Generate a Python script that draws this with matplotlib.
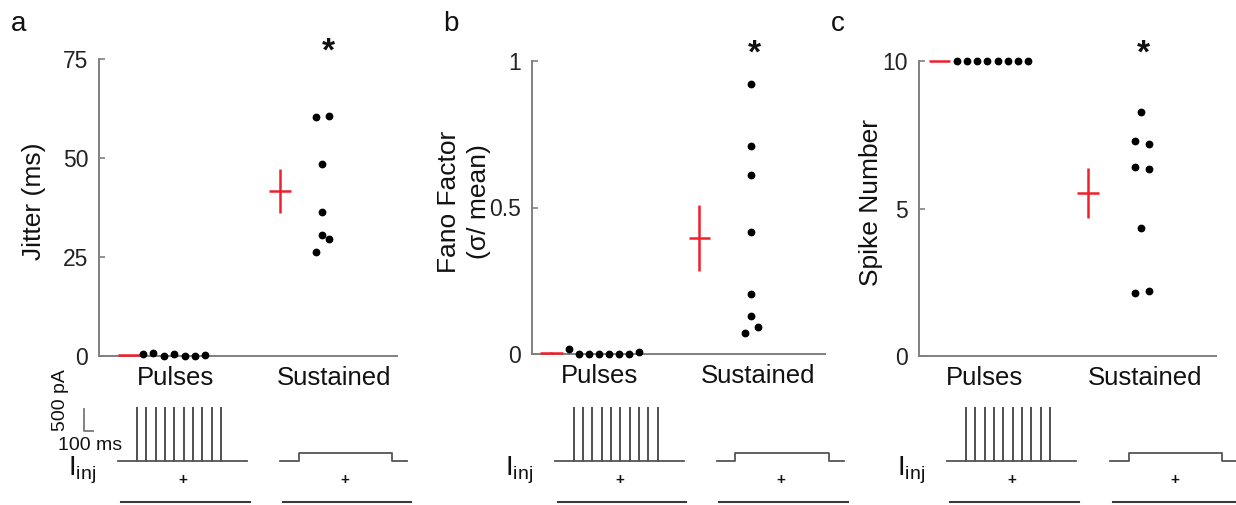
import numpy as np
import matplotlib
matplotlib.use('Agg')
import matplotlib.pyplot as plt
import matplotlib.transforms as mtransforms

plt.rcParams['font.family'] = ['Liberation Sans', 'DejaVu Sans']
plt.rcParams['mathtext.fontset'] = 'custom'
plt.rcParams['mathtext.rm'] = 'Liberation Sans'

# ---------------- data ----------------
categories = ['Pulses', 'Sustained']

jitter_pulses = [0.4, 0.7, 0.0, 0.4, 0.0, 0.0, 0.3]
jitter_sustained = [60.4, 60.5, 48.5, 36.4, 30.5, 29.5, 26.3]

fano_pulses = [0.017, 0.0, 0.0, 0.0, 0.0, 0.0, 0.0, 0.008]
fano_sustained = [0.921, 0.711, 0.611, 0.418, 0.205, 0.131, 0.093, 0.073]

spikes_pulses = [10, 10, 10, 10, 10, 10, 10, 10]
spikes_sustained = [8.27, 7.30, 7.19, 6.42, 6.33, 4.35, 2.12, 2.20]

y_ticks_a = [0, 25, 50, 75]
y_ticks_b = [0, 0.5, 1]
y_ticks_b_labels = ['0', '0.5', '1']
y_ticks_c = [0, 5, 10]

# stimulus protocol (ms, pA)
pulse_times_ms = [200, 300, 400, 500, 600, 700, 800, 900, 1000, 1100]
train_end_ms = 1380
pulse_amp_pA = 1200
step_on_ms = 200
step_off_ms = 1200
step_end_ms = 1360
step_amp_pA = 180
scale_ms = 100
scale_pA = 500

# ---------------- layout ----------------
W, H = 1236, 505
fig = plt.figure(figsize=(W / 100, H / 100), dpi=100)

GRAY = '#808080'
RED = '#f0202a'


def fig_rect(x0, y0, x1, y1):
    return [x0 / W, 1 - y1 / H, (x1 - x0) / W, (y1 - y0) / H]


def sem(v):
    v = np.asarray(v, float)
    return v.std(ddof=1) / np.sqrt(len(v))


panels = [
    dict(letter='a', rect=(99.3, 59, 396.7, 356), ylim=(0, 75), yticks=y_ticks_a,
         ylabels=[str(t) for t in y_ticks_a], ylabel='Jitter (ms)', lab_x=-0.18,
         pul=jitter_pulses, sus=jitter_sustained,
         pul_x0=1.47, pul_dx=0.35, sus_x=[7.29, 7.73, 7.49, 7.49, 7.49, 7.73, 7.29],
         mean_x=(1.0, 6.06), mean_hw=(0.36, 0.37), cat_x=(2.55, 7.9), star_x=7.69,
         stim_left=(118.3, 280.0)),
    dict(letter='b', rect=(531.7, 61, 825, 354), ylim=(0, 1), yticks=y_ticks_b,
         ylabels=y_ticks_b_labels, ylabel='Fano Factor\n(σ/ mean)', lab_x=-0.139,
         pul=fano_pulses, sus=fano_sustained,
         pul_x0=1.28, pul_dx=0.341, sus_x=[7.49, 7.49, 7.49, 7.49, 7.49, 7.49, 7.73, 7.28],
         mean_x=(0.67, 5.72), mean_hw=(0.40, 0.37), cat_x=(2.3, 7.72), star_x=7.61,
         stim_left=(555.0, 716.7)),
    dict(letter='c', rect=(919.3, 61, 1216, 356), ylim=(0, 10), yticks=y_ticks_c,
         ylabels=[str(t) for t in y_ticks_c], ylabel='Spike Number', lab_x=-0.122,
         pul=spikes_pulses, sus=spikes_sustained,
         pul_x0=1.26, pul_dx=0.344, sus_x=[7.48, 7.26, 7.73, 7.26, 7.73, 7.48, 7.26, 7.73],
         mean_x=(0.68, 5.70), mean_hw=(0.36, 0.37), cat_x=(2.21, 7.6), star_x=7.54,
         stim_left=(947.3, 1110.0)),
]

for p in panels:
    ax = fig.add_axes(fig_rect(*p['rect']))
    ax.set_xlim(0, 10)
    ax.set_ylim(*p['ylim'])
    for s in ['top', 'right']:
        ax.spines[s].set_visible(False)
    for s in ['left', 'bottom']:
        ax.spines[s].set_color(GRAY)
        ax.spines[s].set_linewidth(1.4)
    ax.set_yticks(p['yticks'])
    ax.set_yticklabels(p['ylabels'])
    ax.tick_params(axis='y', direction='in', length=4, width=1.2, color=GRAY,
                   pad=8, labelsize=16.5, labelcolor='#222222')
    ax.set_xticks(p['cat_x'])
    ax.set_xticklabels(categories)
    ax.tick_params(axis='x', length=0, pad=7, labelsize=18.5, labelcolor='#111111')
    ax.set_ylabel(p['ylabel'], fontsize=19, color='#111111', linespacing=1.3)
    ax.yaxis.set_label_coords(p['lab_x'], 0.52)

    # individual points
    pul_x = [p['pul_x0'] + p['pul_dx'] * i for i in range(len(p['pul']))]
    ax.plot(pul_x, p['pul'], 'o', color='black', markersize=4.6, clip_on=False, zorder=4)
    ax.plot(p['sus_x'], p['sus'], 'o', color='black', markersize=4.6, clip_on=False, zorder=4)

    # mean +/- sem crosses
    for grp, mx, hw in zip([p['pul'], p['sus']], p['mean_x'], p['mean_hw']):
        m = np.mean(grp)
        e = sem(grp)
        ax.plot([mx - hw, mx + hw], [m, m], color=RED, lw=1.8, clip_on=False, zorder=3,
                solid_capstyle='butt')
        ax.plot([mx, mx], [m - e, m + e], color=RED, lw=1.8, clip_on=False, zorder=3,
                solid_capstyle='butt')

    # significance star
    trans = mtransforms.blended_transform_factory(ax.transData, ax.transAxes)
    ax.text(p['star_x'], 0.995, '*', transform=trans, ha='center', va='baseline',
            fontsize=24, fontweight='bold', color='#111111')

    # panel letter
    fig.text((p['rect'][0] - 88) / W, 1 - 31 / H, p['letter'], fontsize=20,
             ha='left', va='baseline', color='#111111')

    # ---- stimulus schematics ----
    px_per_ms = 0.0933
    pA_per_px = scale_pA / 22.0
    y_top, y_bot, y_base = 400, 505, 461
    for k, left in enumerate(p['stim_left']):
        sax = fig.add_axes(fig_rect(left, y_top, left + train_end_ms * px_per_ms, y_bot))
        sax.set_xlim(0, train_end_ms)
        sax.set_ylim(-(y_bot - y_base) * pA_per_px, (y_base - y_top) * pA_per_px)
        sax.axis('off')
        if k == 0:
            t = [0]
            a = [0]
            for pt in pulse_times_ms:
                t += [pt, pt, pt]
                a += [0, pulse_amp_pA, 0]
            t.append(train_end_ms)
            a.append(0)
            sax.plot(t, a, color='#555555', lw=1.3, clip_on=False)
        else:
            t = [0, step_on_ms, step_on_ms, step_off_ms, step_off_ms, step_end_ms]
            a = [0, 0, step_amp_pA, step_amp_pA, 0, 0]
            sax.plot(t, a, color='#555555', lw=1.3, clip_on=False)
        sax.text(0.5, 0.24, '+', transform=sax.transAxes, ha='center', va='center',
                 fontsize=11, fontweight='bold', color='#111111')
        sax.plot([0.02, 1.02], [0.03, 0.03], transform=sax.transAxes,
                 color='#3a3a3a', lw=1.5, clip_on=False)

        if k == 0 and p['letter'] == 'a':
            # scale bar
            x0 = (84 - left) / px_per_ms
            y0 = (y_base - 431) * pA_per_px
            sax.plot([x0, x0, x0 + scale_ms], [y0 + scale_pA, y0, y0],
                     color='#777777', lw=1.3, clip_on=False)
            fig.text(61 / W, 1 - 400 / H, f'{scale_pA} pA', rotation=90, fontsize=14,
                     ha='center', va='center', color='#111111')
            fig.text(90 / W, 1 - 446 / H, f'{scale_ms} ms', fontsize=14,
                     ha='center', va='center', color='#111111')

    # I_inj label
    ix = p['stim_left'][0] - 50
    fig.text(ix / W, 1 - 476 / H, r'$\mathregular{I_{inj}}$', fontsize=20,
             ha='left', va='baseline', color='#111111')

fig.savefig('out.png', dpi=100)
